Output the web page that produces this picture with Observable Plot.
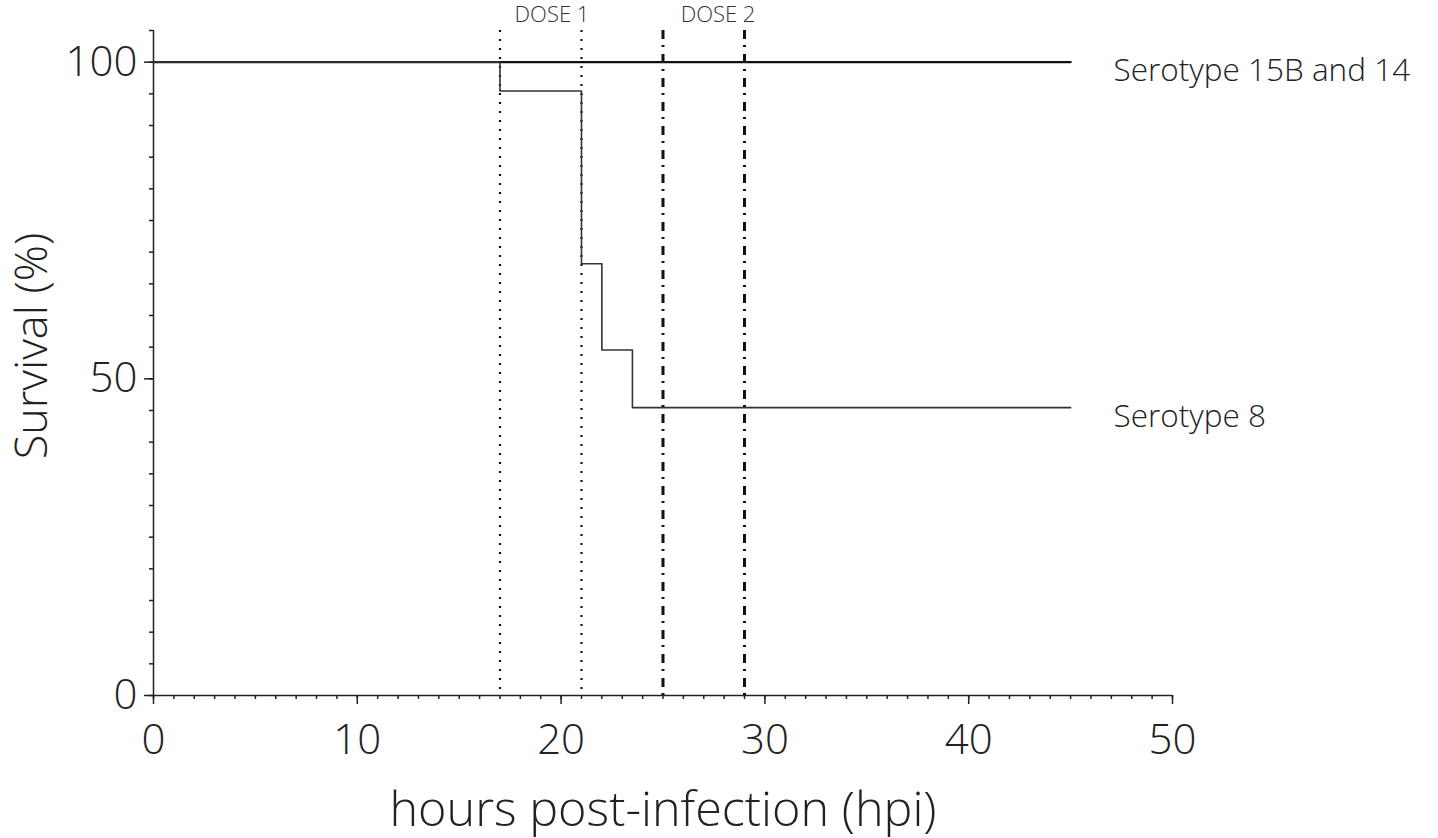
<!DOCTYPE html>
<html>
<head>
<meta charset="utf-8">
<script src="https://cdn.jsdelivr.net/npm/d3@7"></script>
<script src="https://cdn.jsdelivr.net/npm/@observablehq/plot@0.6"></script>
<style>
  html, body { margin: 0; padding: 0; background: #fff; }
  #chart svg { display: block; overflow: visible; }
</style>
</head>
<body>
<div id="chart"></div>
<script>
// ---- data ----
const hours8 = [0, 17, 21, 22, 23.5, 45];
const survival8 = [100, 95.45, 68.18, 54.55, 45.45, 45.45];
const hours15B14 = [0, 45];
const survival15B14 = [100, 100];
const dose1Times = [17, 21];
const dose2Times = [25, 29];
const doseLabels = ["DOSE 1", "DOSE 2"];
const doseLabelX = [19.55, 27.7];
const seriesLabels = ["Serotype 15B and 14", "Serotype 8"];
const seriesLabelY = [100, 45.45];
const xMajorTicks = [0, 10, 20, 30, 40, 50];
const yMajorTicks = [0, 50, 100];
const xMinorTicks = d3.range(0, 51, 1);
const yMinorTicks = d3.range(0, 106, 5);

const s8 = hours8.map((h, i) => ({h, s: survival8[i]}));
const s15 = hours15B14.map((h, i) => ({h, s: survival15B14[i]}));
const doseLab = doseLabels.map((t, i) => ({t, x: doseLabelX[i]}));
const serLab = seriesLabels.map((t, i) => ({t, y: seriesLabelY[i]}));

const FONT = "'Open Sans', 'Noto Sans', sans-serif";
const INK = "#222";

const plot = Plot.plot({
  width: 1438,
  height: 838,
  marginLeft: 153,
  marginRight: 266,
  marginTop: 30,
  marginBottom: 143,
  style: {fontFamily: FONT, fontWeight: 300, color: INK, background: "#fff", overflow: "visible"},
  x: {domain: [0, 50]},
  y: {domain: [0, 105]},
  marks: [
    // minor ticks
    Plot.axisX({ticks: xMinorTicks, tickSize: 4, tickFormat: () => "", label: null, stroke: INK, strokeWidth: 1.5}),
    Plot.axisY({ticks: yMinorTicks, tickSize: 4, tickFormat: () => "", label: null, stroke: INK, strokeWidth: 1.5}),
    // major ticks
    Plot.axisX({ticks: xMajorTicks, tickSize: 9, tickPadding: 20, fontSize: 42, tickFormat: d => d, label: null, stroke: INK, strokeWidth: 1.5}),
    Plot.axisY({ticks: yMajorTicks, tickSize: 9, tickPadding: 7, fontSize: 42, tickFormat: d => d, label: null, stroke: INK, strokeWidth: 1.5}),
    // axis lines
    Plot.ruleY([0], {stroke: INK, strokeWidth: 1.5}),
    Plot.ruleX([0], {stroke: INK, strokeWidth: 1.5}),
    // dose lines
    Plot.ruleX(dose1Times, {stroke: "#111", strokeWidth: 2.2, strokeDasharray: "2,7", strokeLinecap: "butt"}),
    Plot.ruleX(dose2Times, {stroke: "#111", strokeWidth: 3, strokeDasharray: "9,6,2,7"}),
    // survival curves
    Plot.line(s15, {x: "h", y: "s", stroke: "#111", strokeWidth: 2.2}),
    Plot.line(s8, {x: "h", y: "s", curve: "step-after", stroke: "#333", strokeWidth: 1.6}),
    // dose labels
    Plot.text(doseLab, {x: "x", y: () => 105, text: "t", dy: -16, fontSize: 22, fill: "#333"}),
    // series labels
    Plot.text(serLab, {x: () => 45, y: "y", text: "t", dx: 43, dy: 9, textAnchor: "start", fontSize: 31.5, fill: INK}),
    // axis titles
    Plot.text(["hours post-infection (hpi)"], {frameAnchor: "bottom", dy: 130, fontSize: 48.5, fill: INK}),
    Plot.text(["Survival (%)"], {frameAnchor: "left", textAnchor: "middle", dx: -121, dy: -17, rotate: -90, fontSize: 45, fill: INK})
  ]
});
document.getElementById("chart").appendChild(plot);
</script>
</body>
</html>
